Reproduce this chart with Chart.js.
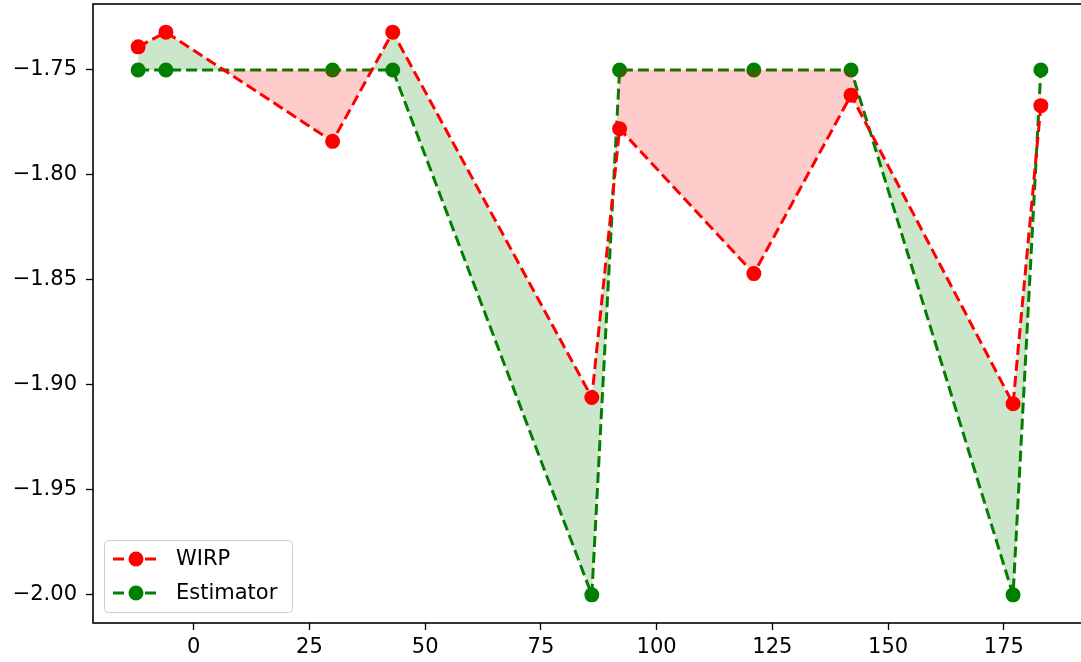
<!DOCTYPE html>
<html>
<head>
<meta charset="utf-8">
<script src="https://cdn.jsdelivr.net/npm/chart.js@4/dist/chart.umd.min.js"></script>
<style>
  html, body { margin: 0; padding: 0; background: #fff; overflow: hidden; }
  #wrap { width: 1081px; height: 662px; overflow: hidden; }
</style>
</head>
<body>
<div id="wrap"><canvas id="chart" width="1088" height="662"></canvas></div>
<script>
var xValues = [-12, -6, 30, 43, 86, 92, 121, 142, 177, 183];
var wirpValues = [-1.739, -1.732, -1.784, -1.732, -1.906, -1.778, -1.847, -1.762, -1.909, -1.767];
var estimatorValues = [-1.75, -1.75, -1.75, -1.75, -2.00, -1.75, -1.75, -1.75, -2.00, -1.75];
var xTicks = [0, 25, 50, 75, 100, 125, 150, 175];
var yTicks = [-2.00, -1.95, -1.90, -1.85, -1.80, -1.75];

var FONT = 'DejaVu Sans';

function toPoints(values) {
  return xValues.map(function (x, i) { return { x : x, y : values[i] }; });
}

// frame around the plot area
var framePlugin = {
  id : 'frame',
  afterDatasetsDraw : function (chart) {
    var a = chart.chartArea;
    var ctx = chart.ctx;
    ctx.save();
    ctx.strokeStyle = '#000';
    ctx.lineWidth = 1.6;
    ctx.strokeRect(a.left, a.top, a.right - a.left, a.bottom - a.top);
    ctx.restore();
  },
};

// legend drawn inside the plot, lower left
var legendPlugin = {
  id : 'innerLegend',
  afterDraw : function (chart) {
    var ctx = chart.ctx;
    var a = chart.chartArea;
    var items = [
      { label : 'WIRP', color : '#ff0000' },
      { label : 'Estimator', color : '#008000' },
    ];
    var x0 = a.left + 11;
    var y0 = a.bottom - 83;
    ctx.save();
    ctx.fillStyle = 'rgba(255,255,255,0.8)';
    ctx.strokeStyle = '#cccccc';
    ctx.lineWidth = 1;
    ctx.beginPath();
    ctx.roundRect(x0 + 0.5, y0 + 0.5, 188, 72, 4);
    ctx.fill();
    ctx.stroke();
    items.forEach(function (item, i) {
      var y = y0 + 19 + i * 34;
      ctx.strokeStyle = item.color;
      ctx.lineWidth = 3;
      ctx.setLineDash([11, 5]);
      ctx.beginPath();
      ctx.moveTo(x0 + 9, y);
      ctx.lineTo(x0 + 54, y);
      ctx.stroke();
      ctx.setLineDash([]);
      ctx.fillStyle = item.color;
      ctx.beginPath();
      ctx.arc(x0 + 32, y, 7.5, 0, Math.PI * 2);
      ctx.fill();
      ctx.fillStyle = '#000';
      ctx.font = '21px ' + FONT;
      ctx.textBaseline = 'middle';
      ctx.fillText(item.label, x0 + 72, y + 1);
    });
    ctx.restore();
  },
};

function noScalePadding(axis) {
  axis.paddingTop = 0;
  axis.paddingBottom = 0;
  axis.paddingLeft = 0;
  axis.paddingRight = 0;
}

new Chart(document.getElementById('chart').getContext('2d'), {
  type : 'line',
  plugins : [framePlugin, legendPlugin],
  data : {
    datasets : [
      {
        label : 'WIRP',
        data : toPoints(wirpValues),
        borderColor : '#ff0000',
        backgroundColor : '#ff0000',
        borderWidth : 3,
        borderDash : [11, 5],
        pointRadius : 7.5,
        pointBorderWidth : 0,
        pointBackgroundColor : '#ff0000',
        tension : 0,
        fill : {
          target : '+1',
          above : 'rgba(0, 128, 0, 0.2)',
          below : 'rgba(255, 0, 0, 0.2)',
        },
      },
      {
        label : 'Estimator',
        data : toPoints(estimatorValues),
        borderColor : '#008000',
        backgroundColor : '#008000',
        borderWidth : 3,
        borderDash : [11, 5],
        pointRadius : 7.5,
        pointBorderWidth : 0,
        pointBackgroundColor : '#008000',
        tension : 0,
        fill : false,
      },
    ],
  },
  options : {
    responsive : false,
    animation : false,
    layout : { autoPadding : false, padding : { left : 0, right : 2, top : 4, bottom : 0 } },
    plugins : {
      legend : { display : false },
      tooltip : { enabled : false },
    },
    scales : {
      x : {
        type : 'linear',
        min : -21.75,
        max : 192.75,
        afterBuildTicks : function (axis) {
          axis.ticks = xTicks.map(function (v) { return { value : v }; });
        },
        afterFit : function (axis) { axis.height = 39; noScalePadding(axis); },
        grid : {
          drawOnChartArea : false,
          drawTicks : true,
          tickLength : 7,
          tickColor : '#000',
          tickWidth : 1.3,
        },
        border : { display : false },
        ticks : {
          color : '#000',
          font : { family : FONT, size : 21 },
          padding : 5,
          maxRotation : 0,
          callback : function (v) { return String(v); },
        },
      },
      y : {
        type : 'linear',
        min : -2.0134,
        max : -1.7186,
        afterBuildTicks : function (axis) {
          axis.ticks = yTicks.map(function (v) { return { value : v }; });
        },
        afterFit : function (axis) { axis.width = 93; noScalePadding(axis); },
        grid : {
          drawOnChartArea : false,
          drawTicks : true,
          tickLength : 7,
          tickColor : '#000',
          tickWidth : 1.3,
        },
        border : { display : false },
        ticks : {
          color : '#000',
          font : { family : FONT, size : 21 },
          padding : 9,
          callback : function (v) { return '\u2212' + Math.abs(v).toFixed(2); },
        },
      },
    },
  },
});
</script>
</body>
</html>
